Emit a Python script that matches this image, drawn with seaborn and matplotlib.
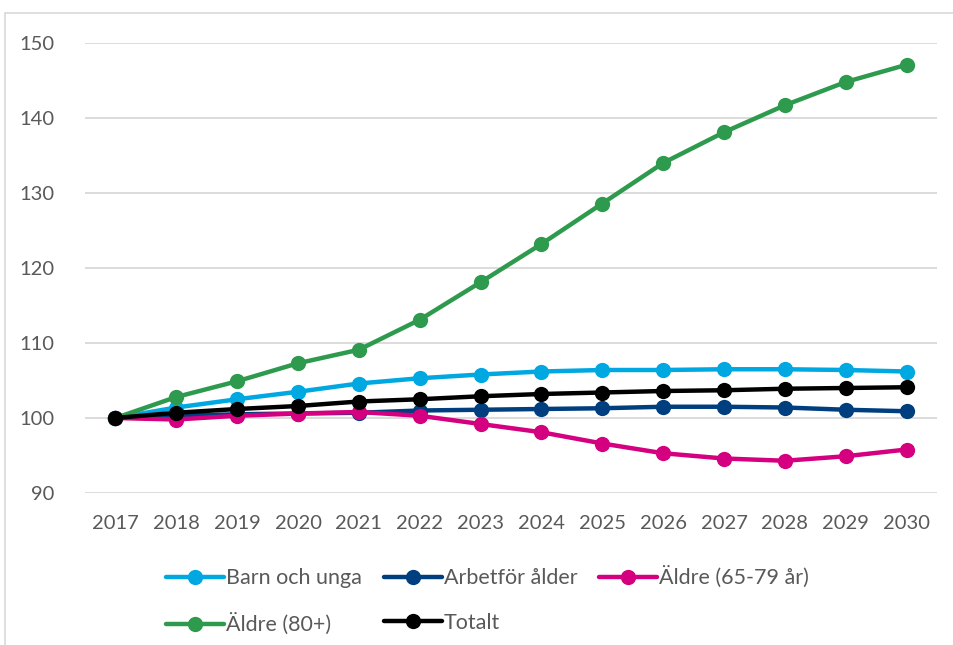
import pandas as pd
import numpy as np
import matplotlib
matplotlib.use("Agg")
import matplotlib.pyplot as plt
import seaborn as sns
from matplotlib.patches import Rectangle

years = [2017, 2018, 2019, 2020, 2021, 2022, 2023, 2024, 2025, 2026, 2027, 2028, 2029, 2030]

barn = [100, 101.4, 102.5, 103.5, 104.6, 105.3, 105.8, 106.2, 106.4, 106.4, 106.5, 106.5, 106.4, 106.2]
arbetsfor = [100, 100.3, 100.5, 100.6, 100.7, 101.0, 101.1, 101.2, 101.3, 101.5, 101.5, 101.4, 101.1, 100.9]
aldre_65_79 = [100, 99.8, 100.3, 100.6, 100.8, 100.3, 99.2, 98.1, 96.6, 95.3, 94.6, 94.3, 94.9, 95.8]
aldre_80 = [100, 102.8, 104.9, 107.3, 109.1, 113.1, 118.1, 123.2, 128.6, 134.0, 138.1, 141.7, 144.8, 147.1]
totalt = [100, 100.7, 101.2, 101.6, 102.2, 102.5, 102.9, 103.2, 103.4, 103.6, 103.7, 103.9, 104.0, 104.1]

series_names = ["Barn och unga", "Arbetför ålder", "Äldre (65-79 år)", "Äldre (80+)", "Totalt"]
series_values = [barn, arbetsfor, aldre_65_79, aldre_80, totalt]
colors = ["#00A8E1", "#003F7F", "#D5007F", "#2E9A4E", "#000000"]

# long format table for seaborn
rows = []
for name, vals in zip(series_names, series_values):
    for y, v in zip(years, vals):
        rows.append({"År": y, "Index": v, "Grupp": name})
df = pd.DataFrame(rows)

sns.set_theme(style="white")
plt.rcParams["font.family"] = ["Lato", "DejaVu Sans"]

fig = plt.figure(figsize=(9.54, 6.45), dpi=100)
ax = fig.add_axes([85 / 954, 1 - 493 / 645, 852 / 954, 450 / 645])

sns.lineplot(data=df, x="År", y="Index", hue="Grupp", hue_order=series_names,
             palette=colors, marker="o", markersize=11, markeredgewidth=0,
             linewidth=3.2, ax=ax, legend=False)

ax.set_xlim(2016.5, 2030.5)
ax.set_ylim(90, 150)
ax.set_xticks(years)
ax.set_yticks(np.arange(90, 151, 10))
ax.set_xlabel("")
ax.set_ylabel("")
ax.grid(axis="y", color="#D9D9D9", linewidth=1.3)
ax.set_axisbelow(True)
for s in ax.spines.values():
    s.set_visible(False)
ax.tick_params(axis="x", length=0, labelsize=14.5, labelcolor="#595959", pad=16)
ax.tick_params(axis="y", length=0, labelsize=14.5, labelcolor="#595959", pad=22)

# legend fills column by column, so reorder to get the rows right
handles = [plt.Line2D([0], [0], color=c, lw=3.2, marker="o", markersize=11, markeredgewidth=0)
           for c in colors]
order = [0, 3, 1, 4, 2]
fig.legend([handles[i] for i in order], [series_names[i] for i in order],
           loc="upper left", bbox_to_anchor=(166 / 954, 1 - 566 / 645),
           ncol=3, frameon=False, fontsize=15.5, labelcolor="#595959",
           handlelength=2.7, handletextpad=0.1, columnspacing=1.0, labelspacing=1.15,
           borderaxespad=0, borderpad=0)

fig.patches.append(Rectangle((5 / 954, -0.1), 1.1, 1 - 13 / 645 + 0.1, transform=fig.transFigure,
                             fill=False, edgecolor="#D9D9D9", linewidth=1.2))

fig.savefig("out.png", dpi=100)
